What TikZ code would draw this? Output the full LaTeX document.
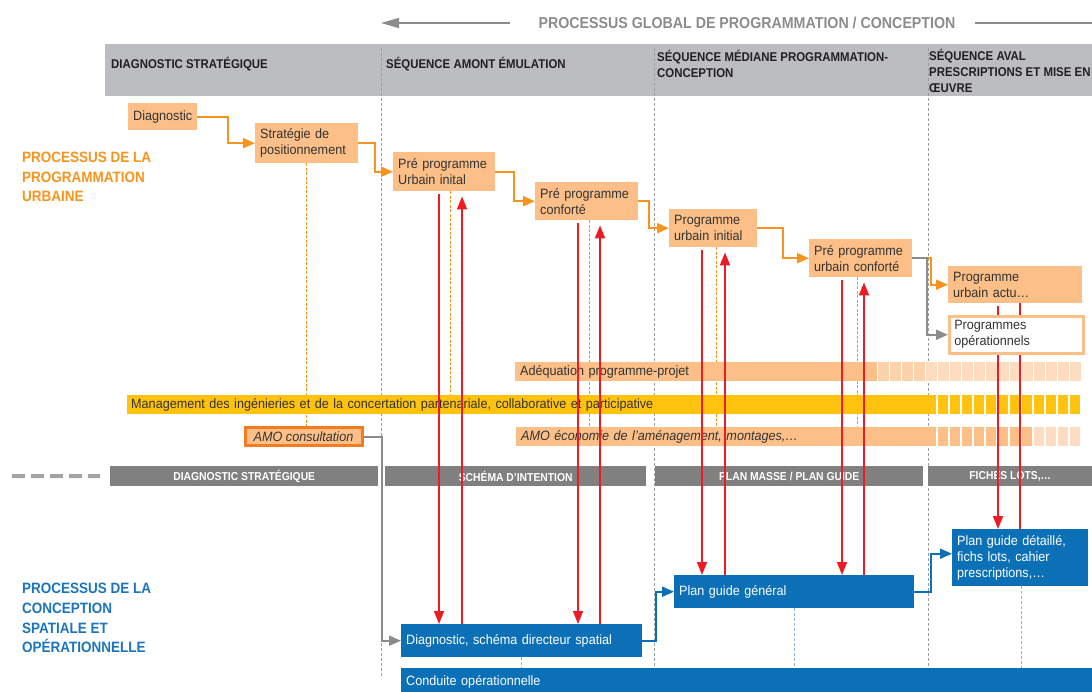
\documentclass[tikz,border=0pt]{standalone}
\usepackage{fontspec}
\setmainfont[FakeStretch=0.935]{Liberation Sans}
\newfontfamily\capsfont[FakeStretch=0.9]{Liberation Sans}
\usetikzlibrary{arrows.meta,backgrounds}

\definecolor{ofill}{HTML}{FBBF87}
\definecolor{olight}{HTML}{FDDCC1}
\definecolor{omid}{HTML}{FCD2AC}
\definecolor{oline}{HTML}{F7941D}
\definecolor{odark}{HTML}{F47B20}
\definecolor{yel}{HTML}{FFC20E}
\definecolor{bfill}{HTML}{0C70B7}
\definecolor{blab}{HTML}{1C75BC}
\definecolor{bdash}{HTML}{8FB4E3}
\definecolor{redl}{HTML}{ED1C24}
\definecolor{band}{HTML}{BCBDC0}
\definecolor{gbar}{HTML}{808080}
\definecolor{gline}{HTML}{8C8C8C}
\definecolor{txt}{HTML}{333333}
\definecolor{hdtxt}{HTML}{231F20}

\newcommand{\bodyfont}{\fontsize{13.5}{16}\selectfont}
\newcommand{\headfont}{\capsfont\bfseries\fontsize{12.7}{16}\selectfont}
\newcommand{\barfont}{\capsfont\bfseries\fontsize{11.5}{13}\selectfont}
\newcommand{\sidefont}{\capsfont\bfseries\fontsize{15}{19.7}\selectfont}
\newcommand{\titlefont}{\capsfont\bfseries\fontsize{15.8}{18}\selectfont}

\tikzset{
	obox/.style={
		anchor=north west,
		fill=ofill,
		inner xsep=5pt,
		inner ysep=0pt,
		align=left,
		text=txt,
		font=\bodyfont
	},
	bluebox/.style={obox, fill=bfill, text=white},
	progbar/.style={
		anchor=north west,
		inner xsep=5pt,
		inner ysep=0pt,
		minimum height=19pt,
		align=left,
		text=txt,
		font=\bodyfont
	},
	amobox/.style={
		draw=odark,
		line width=3pt,
		fill=ofill,
		minimum width=117pt,
		minimum height=18pt,
		inner sep=0pt,
		text=txt,
		font=\bodyfont\itshape
	},
	seqbar/.style={
		anchor=north west,
		fill=gbar,
		text=white,
		font=\barfont,
		minimum height=20pt,
		inner sep=0pt
	},
	headtext/.style={anchor=west, inner sep=0pt, align=left, text=hdtxt, font=\headfont},
	sidelabel/.style={anchor=west, inner sep=0pt, align=left, font=\sidefont},
	seqsep/.style={draw=gline!85, line width=0.8pt, dash pattern=on 3pt off 2pt},
	odash/.style={draw=oline, line width=0.8pt, dash pattern=on 3pt off 1.5pt},
	bdashed/.style={draw=bdash, line width=1pt, dash pattern=on 3pt off 2pt},
	oarrow/.style={draw=oline, line width=2pt, -{Triangle[length=12pt,width=10pt]}},
	garrow/.style={oarrow, draw=gline},
	barrow/.style={oarrow, draw=bfill},
	rplain/.style={draw=redl, line width=1.8pt},
	rdown/.style={rplain, shorten <=3pt, -{Triangle[length=13pt,width=10pt]}},
	rup/.style={rplain, shorten >=5pt, -{Triangle[length=13pt,width=10pt]}},
}

\begin{document}
\begin{tikzpicture}[x=1pt, y=-1pt]
    \useasboundingbox (0,0) rectangle (1092,691);

    % title line
    \node[font=\titlefont, text=gline, inner sep=0pt] (ttl) at (747,23) {PROCESSUS GLOBAL DE PROGRAMMATION / CONCEPTION};
    \coordinate (tl) at (381,23);
    \coordinate (tr) at (1092,23);
    \draw[draw=gline, line width=1.8pt, -{Triangle[length=18pt,width=10pt]}] (ttl.west) ++(-28,0) -- (tl);
    \draw[draw=gline, line width=1.8pt] (ttl.east) ++(19,0) -- (tr);

    % header band and sequence separators
    \begin{scope}[on background layer]
      \fill[band] (105,44) rectangle (1092,96);
      \foreach \x/\yb in {381/678, 654/668, 928/668}
        \draw[seqsep] (\x,48) -- (\x,\yb);
    \end{scope}
    \node[headtext] (h1) at (111,64) {DIAGNOSTIC STRATÉGIQUE};
    \node[headtext] (h2) at (386,64) {SÉQUENCE AMONT ÉMULATION};
    \node[headtext] (h3) at (657,64) {SÉQUENCE MÉDIANE PROGRAMMATION-\\CONCEPTION};
    \node[headtext] (h4) at (929,71) {SÉQUENCE AVAL\\PRESCRIPTIONS ET MISE EN\\ŒUVRE};

    % side labels
    \node[sidelabel, text=oline] (lprog) at (22,177) {PROCESSUS DE LA\\PROGRAMMATION\\URBAINE};
    \node[sidelabel, text=blab] (lconc) at (22,618) {PROCESSUS DE LA\\CONCEPTION\\SPATIALE ET\\OPÉRATIONNELLE};

    % programmation boxes
    \node[obox, text width=59pt, minimum height=27pt] (diag) at (128,103) {Diagnostic};
    \node[obox, text width=93pt, minimum height=40pt] (strat) at (255,123) {Stratégie de\\positionnement};
    \node[obox, text width=92pt, minimum height=39pt] (ppui) at (393,152) {Pré programme\\Urbain inital};
    \node[obox, text width=93pt, minimum height=38pt] (ppc) at (535,182) {Pré programme\\conforté};
    \node[obox, text width=78pt, minimum height=38pt] (pui) at (669,209) {Programme\\urbain initial};
    \node[obox, text width=93pt, minimum height=38pt] (ppuc) at (809,239) {Pré programme\\urbain conforté};
    \node[obox, text width=124pt, minimum height=37pt] (pua) at (948,266) {Programme\\urbain actu…};

    % transverse bars
    \node[progbar, fill=ofill, text width=352pt] (adeq) at (515,362) {Adéquation programme-projet};
    \node[progbar, fill=yel, inner xsep=4pt, text width=801pt] (mgmt) at (127,395) {Management des ingénieries et de la concertation partenariale, collaborative et participative};
    \node[progbar, fill=ofill, text width=410pt, font=\bodyfont\itshape] (amoe) at (516,427) {AMO économie de l’aménagement, montages,…};
    \foreach \i in {0,...,3}
      \fill[omid] (878+12*\i,362) rectangle ++(10.5,19);
    \foreach \i in {4,...,16}
      \fill[olight] (878+12*\i,362) rectangle ++(10.5,19);
    \foreach \i in {0,...,11}
      \fill[yel] (938+12*\i,395) rectangle ++(10,19);
    \foreach \i in {0,...,7}
      \fill[ofill] (938+12*\i,427) rectangle ++(10,19);
    \foreach \i in {8,...,11}
      \fill[olight] (938+12*\i,427) rectangle ++(10,19);
    \node[amobox] (amoc) at (303.5,436.5) {AMO consultation};

    % dashed links under the bars
    \begin{scope}[on background layer]
      \draw[odash] (strat.south -| 306,0) -- (amoc.north -| 306,0);
      \foreach \src/\tgt/\x in {ppui/mgmt/450, ppc/amoe/589, pui/amoe/716, ppuc/amoe/857}
        \draw[odash] (\src.south -| \x,0) -- (\tgt.north -| \x,0);
    \end{scope}

    % conception bars
    \coordinate (dl) at (12,476);
    \node[seqbar, minimum width=268pt] (b1) at (110,466) {DIAGNOSTIC STRATÉGIQUE};
    \node[seqbar, minimum width=261pt] (b2) at (385,466) {SCHÉMA D’INTENTION};
    \node[seqbar, minimum width=268pt] (b3) at (655,466) {PLAN MASSE / PLAN GUIDE};
    \node[seqbar, minimum width=164pt] (b4) at (928,466) {FICHES LOTS,…};
    \draw[draw=gline!80, line width=4pt, dash pattern=on 13pt off 6pt] (dl) -- ([xshift=-10pt]b1.west);

    % conception boxes
    \node[bluebox, text width=231pt, minimum height=33pt] (dsd) at (401,624) {Diagnostic, schéma directeur spatial};
    \node[bluebox, text width=230pt, minimum height=33pt] (pgg) at (674,575) {Plan guide général};
    \node[bluebox, text width=126pt, minimum height=57pt] (pgd) at (952,529) {Plan guide détaillé,\\fichs lots, cahier\\prescriptions,…};
    \node[bluebox, text width=681pt, minimum height=28pt] (cond) at (401,668) {Conduite opérationnelle};

    % red exchanges
    \foreach \src/\tgt/\xd/\xu in {ppui/dsd/439/462, ppc/dsd/578/600, pui/pgg/702/725, ppuc/pgg/842/864}{
      \draw[rdown] (\src.south -| \xd,0) -- (\tgt.north -| \xd,0);
      \draw[rup] (\tgt.north -| \xu,0) -- (\src.south -| \xu,0);
    }
    \draw[rdown] (pua.south -| 998,0) -- (pgd.north -| 998,0);
    \draw[rplain] (pua.south -| 1020,0) -- (pgd.north -| 1020,0);

    \node[obox, fill=white, draw=ofill, line width=2.5pt, text width=124pt, minimum height=37pt] (po) at (948,315) {Programmes\\opérationnels};

    % connectors
    \draw[oarrow] (diag.east) -- ++(31,0) |- (strat.west);
    \draw[oarrow] (strat.east) -- ++(17,0) |- (ppui.west);
    \draw[oarrow] (ppui.east) -- ++(19,0) |- (ppc.west);
    \draw[oarrow] (ppc.east) -- ++(11,0) |- (pui.west);
    \draw[oarrow] (pui.east) -- ++(26,0) |- (ppuc.west);
    \draw[oarrow] (ppuc.east) -- ++(19,0) |- (pua.west);
    \draw[garrow] (ppuc.east) -- ++(15,0) |- (po.west);
    \draw[garrow] (amoc.east) -- ++(18,0) |- (dsd.west);
    \draw[barrow] (dsd.east) -- ++(14,0) |- (pgg.west);
    \draw[barrow] (pgg.east) -- ++(17,0) |- ([yshift=4pt]pgd.west);
    \foreach \blk/\x in {dsd/521, pgg/794, pgd/1021}
      \draw[bdashed] (\blk.south -| \x,0) -- (cond.north -| \x,0);
\end{tikzpicture}
\end{document}
